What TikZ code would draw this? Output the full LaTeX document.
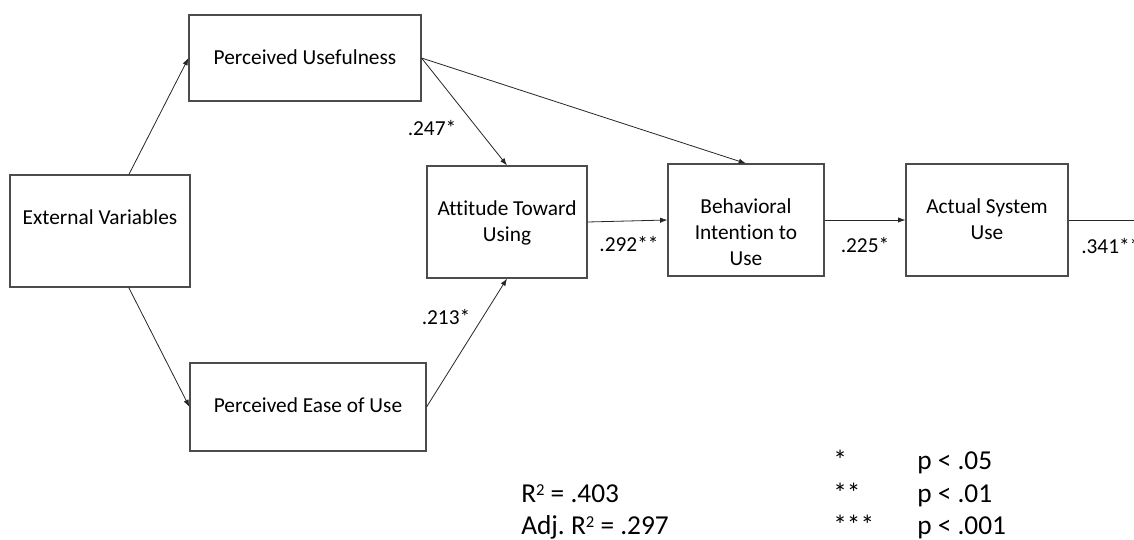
\documentclass[tikz,border=0pt]{standalone}
\usepackage{fontspec}
\setmainfont{Carlito}[Ligatures=NoCommon]
\usepackage{tikz}
\usetikzlibrary{arrows.meta,positioning}
\frenchspacing
\newcommand{\sqr}{\raisebox{5.2pt}{\fontsize{12.5}{12}\selectfont 2}}

\tikzset{
  box/.style={draw=black!70, line width=0.8pt, inner sep=0pt},
  boxtext/.style={anchor=north, align=center, inner sep=0pt, font=\fontsize{16}{19.5}\selectfont},
  coef/.style={inner sep=0pt, font=\fontsize{16}{19.5}\selectfont},
  legend/.style={anchor=base west, inner sep=0pt, font=\fontsize{20.5}{24}\selectfont},
}

\begin{document}
\begin{tikzpicture}[x=0.75pt,y=-0.75pt]
\useasboundingbox (0,0) rectangle (1134,539);
\node[box, minimum width=135pt, minimum height=84pt] (EV) at (100,231) {};
\node[box, minimum width=174pt, minimum height=64.5pt] (PU) at (305,58) {};
\node[box, minimum width=177pt, minimum height=66pt] (PEU) at (308,407) {};
\node[box, minimum width=120pt, minimum height=84pt] (ATU) at (507,222) {};
\node[box, minimum width=117pt, minimum height=84pt] (BI) at (746,220) {};
\node[box, minimum width=121.5pt, minimum height=84pt] (ASU) at (987,220) {};
\coordinate (out) at (1180,220);
% box texts sit near the top of each box
\node[boxtext] (EV-t) at ([yshift=-24pt]EV.north) {\strut External Variables};
\node[boxtext] (PU-t) at ([yshift=-24pt]PU.north) {\strut Perceived Usefulness};
\node[boxtext] (PEU-t) at ([yshift=-24pt]PEU.north) {\strut Perceived Ease of Use};
\node[boxtext] (ATU-t) at ([yshift=-24pt]ATU.north) {\strut Attitude Toward\\Using};
\node[boxtext] (BI-t) at ([yshift=-24pt]BI.north) {\strut Behavioral\\Intention to\\Use};
\node[boxtext] (ASU-t) at ([yshift=-24pt]ASU.north) {\strut Actual System\\Use};
\path[->, black!85, line width=0.6pt, >={Latex[length=5.5pt,width=4pt]}]
(EV) edge (PU.west)
(EV) edge (PEU.west)
(PU.east) edge (ATU.north)
(PU.east) edge (BI.north)
(PEU.east) edge (ATU.south)
(ATU.east) edge (BI.west)
(BI.east) edge (ASU.west);
\draw[black!85, line width=0.6pt] (ASU.east) -- (out);
% path coefficients
\node[coef] (c1) at (432,128) {.247*};
\node[coef] (c2) at (446,317) {.213*};
\node[coef] (c3) at (629,244) {.292**};
\node[coef] (c4) at (865,245) {.225*};
\node[coef, anchor=west] (c5) at (1081,246) {.341**};
% fit and significance legend
\node[legend] (r2) at (521,502) {R\sqr{} = .403};
\node[legend] (adj) at (521,534) {Adj. R\sqr{} = .297};
\node[legend] (s1) at (833,469) {*};
\node[legend] (s2) at (833,502) {**};
\node[legend] (s3) at (833,534) {***};
\node[legend] (p1) at (917,469) {p < .05};
\node[legend] (p2) at (917,502) {p < .01};
\node[legend] (p3) at (917,534) {p < .001};
\end{tikzpicture}
\end{document}
